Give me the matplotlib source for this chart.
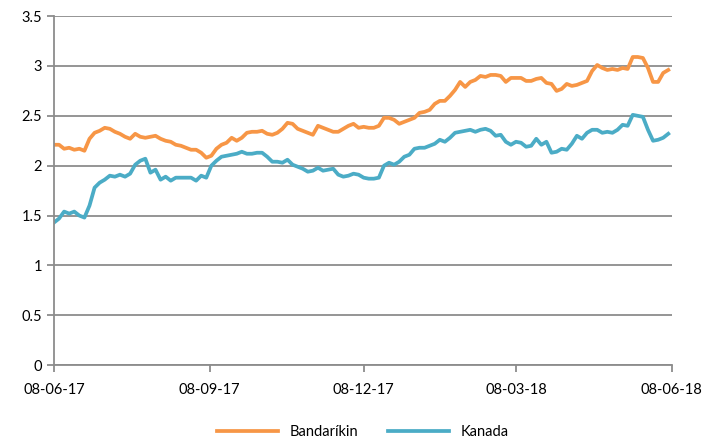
import pandas as pd
import matplotlib.pyplot as plt
import matplotlib.dates as mdates

# data, one value every 3 days from 08-06-2017
dates = pd.date_range('2017-06-08', periods=122, freq='3D')

bandarikin = [
    2.21, 2.21, 2.17, 2.18, 2.16, 2.17, 2.15, 2.27, 2.33, 2.35,
    2.38, 2.37, 2.34, 2.32, 2.29, 2.27, 2.32, 2.29, 2.28, 2.29,
    2.30, 2.27, 2.25, 2.24, 2.21, 2.20, 2.18, 2.16, 2.16, 2.13,
    2.08, 2.10, 2.17, 2.21, 2.23, 2.28, 2.25, 2.28, 2.33, 2.34,
    2.34, 2.35, 2.32, 2.31, 2.33, 2.37, 2.43, 2.42, 2.37, 2.35,
    2.33, 2.31, 2.40, 2.38, 2.36, 2.34, 2.34, 2.37, 2.40, 2.42,
    2.38, 2.39, 2.38, 2.38, 2.40, 2.48, 2.48, 2.46, 2.42, 2.44,
    2.46, 2.48, 2.53, 2.54, 2.56, 2.62, 2.65, 2.65, 2.70, 2.76,
    2.84, 2.79, 2.84, 2.86, 2.90, 2.89, 2.91, 2.91, 2.90, 2.84,
    2.88, 2.88, 2.88, 2.85, 2.85, 2.87, 2.88, 2.83, 2.82, 2.75,
    2.77, 2.82, 2.80, 2.81, 2.83, 2.85, 2.95, 3.01, 2.98, 2.96,
    2.97, 2.96, 2.98, 2.97, 3.09, 3.09, 3.08, 2.98, 2.84, 2.84,
    2.93, 2.96,
]

kanada = [
    1.43, 1.47, 1.54, 1.52, 1.54, 1.50, 1.48, 1.60, 1.78, 1.83,
    1.86, 1.90, 1.89, 1.91, 1.89, 1.92, 2.01, 2.05, 2.07, 1.93,
    1.96, 1.86, 1.89, 1.85, 1.88, 1.88, 1.88, 1.88, 1.85, 1.90,
    1.88, 2.00, 2.05, 2.09, 2.10, 2.11, 2.12, 2.14, 2.12, 2.12,
    2.13, 2.13, 2.09, 2.04, 2.04, 2.03, 2.06, 2.01, 1.99, 1.97,
    1.94, 1.95, 1.98, 1.95, 1.96, 1.97, 1.91, 1.89, 1.90, 1.92,
    1.91, 1.88, 1.87, 1.87, 1.88, 2.00, 2.03, 2.01, 2.04, 2.09,
    2.11, 2.17, 2.18, 2.18, 2.20, 2.22, 2.26, 2.24, 2.28, 2.33,
    2.34, 2.35, 2.36, 2.34, 2.36, 2.37, 2.35, 2.30, 2.31, 2.24,
    2.21, 2.24, 2.23, 2.19, 2.20, 2.27, 2.21, 2.24, 2.13, 2.14,
    2.17, 2.16, 2.22, 2.30, 2.27, 2.33, 2.36, 2.36, 2.33, 2.34,
    2.33, 2.36, 2.41, 2.40, 2.51, 2.50, 2.49, 2.36, 2.25, 2.26,
    2.28, 2.32,
]

tick_dates = pd.to_datetime(['2017-06-08', '2017-09-08', '2017-12-08',
                             '2018-03-08', '2018-06-08'])

plt.rcParams['font.family'] = ['Lato', 'DejaVu Sans']

fig = plt.figure(figsize=(7.1, 4.47), dpi=100)
ax = fig.add_axes([0.076, 0.183, 0.870, 0.781])

ax.plot(dates, bandarikin, color='#F79646', lw=2.7, label='Bandaríkin')
ax.plot(dates, kanada, color='#4BACC6', lw=2.7, label='Kanada')

ax.set_ylim(0, 3.5)
ax.set_yticks([0, 0.5, 1, 1.5, 2, 2.5, 3, 3.5])
ax.set_yticklabels(['0', '0.5', '1', '1.5', '2', '2.5', '3', '3.5'])
ax.set_xlim(tick_dates[0], tick_dates[-1])
ax.set_xticks(tick_dates)
ax.xaxis.set_major_formatter(mdates.DateFormatter('%d-%m-%y'))

ax.grid(axis='y', color='#8C8C8C', lw=1.3)
ax.set_axisbelow(True)
for s in ['top', 'right']:
    ax.spines[s].set_visible(False)
for s in ['left', 'bottom']:
    ax.spines[s].set_color('#8C8C8C')
    ax.spines[s].set_linewidth(1.3)
ax.tick_params(axis='both', colors='#8C8C8C', labelcolor='black',
               labelsize=10.5, length=5, width=1.3)
ax.tick_params(axis='x', pad=8)

ax.legend(loc='upper center', bbox_to_anchor=(0.5, -0.135), ncol=2,
          frameon=False, fontsize=10.5, handlelength=4.2, columnspacing=2.0)

plt.savefig('out.png', dpi=100)
